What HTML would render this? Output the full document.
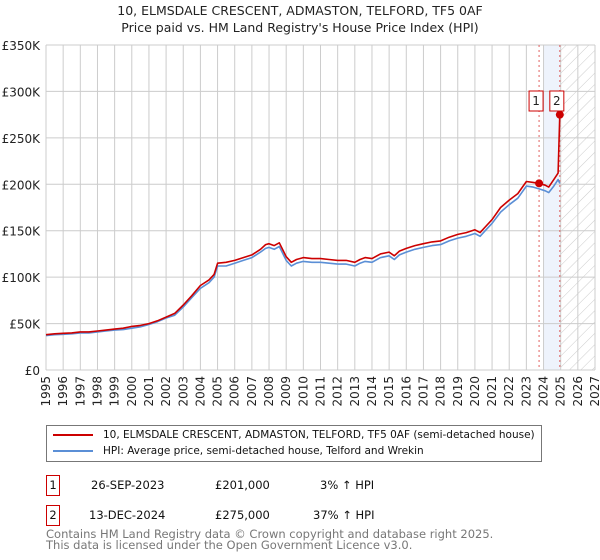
<!DOCTYPE html>
<html><head><meta charset="utf-8"><style>
body{margin:0;width:600px;height:560px;background:#fff;font-family:"DejaVu Sans","Liberation Sans",sans-serif;position:relative;overflow:hidden}
.t{position:absolute;white-space:nowrap}
</style></head><body>
<div class="t" style="left:0;width:600px;top:2px;text-align:center;font-size:12.5px;line-height:17px;color:#222">10, ELMSDALE CRESCENT, ADMASTON, TELFORD, TF5 0AF<br>Price paid vs. HM Land Registry's House Price Index (HPI)</div>
<svg id="chart" width="600" height="415" style="position:absolute;left:0;top:0"></svg>
<div style="position:absolute;left:46px;top:425px;width:494px;height:35px;border:1px solid #777;font-size:10.5px;color:#111;white-space:nowrap">
 <div style="position:absolute;left:6px;top:3px"><span style="display:inline-block;width:40px;height:2px;background:#cc0000;vertical-align:middle;margin-right:10px"></span>10, ELMSDALE CRESCENT, ADMASTON, TELFORD, TF5 0AF (semi-detached house)</div>
 <div style="position:absolute;left:6px;top:19px"><span style="display:inline-block;width:40px;height:2px;background:#5b8fd6;vertical-align:middle;margin-right:10px"></span>HPI: Average price, semi-detached house, Telford and Wrekin</div>
</div>
<div style="font-size:11.5px;color:#111">
 <div class="t" style="left:46px;top:475px;width:12px;height:19px;border:1px solid #cc0000;text-align:center;line-height:19px">1</div>
 <div class="t" style="left:91px;top:478px">26-SEP-2023</div>
 <div class="t" style="left:215px;top:478px">£201,000</div>
 <div class="t" style="left:320px;top:478px">3% ↑ HPI</div>
</div>
<div style="font-size:11.5px;color:#111">
 <div class="t" style="left:46px;top:505px;width:12px;height:19px;border:1px solid #cc0000;text-align:center;line-height:19px">2</div>
 <div class="t" style="left:89px;top:508px">13-DEC-2024</div>
 <div class="t" style="left:215px;top:508px">£275,000</div>
 <div class="t" style="left:313px;top:508px">37% ↑ HPI</div>
</div>
<div class="t" style="left:46px;top:529px;font-size:11.5px;line-height:11px;color:#777">Contains HM Land Registry data © Crown copyright and database right 2025.<br>This data is licensed under the Open Government Licence v3.0.</div>
<script>
const years=[1995,1995.5,1996,1996.5,1997,1997.5,1998,1998.5,1999,1999.5,2000,2000.5,2001,2001.5,2002,2002.5,2003,2003.5,2004,2004.5,2004.8,2005,2005.5,2006,2006.5,2007,2007.5,2007.8,2008,2008.3,2008.6,2009,2009.3,2009.6,2010,2010.5,2011,2011.5,2012,2012.5,2013,2013.3,2013.6,2014,2014.5,2015,2015.3,2015.6,2016,2016.5,2017,2017.5,2018,2018.5,2019,2019.5,2020,2020.3,2020.6,2021,2021.5,2022,2022.5,2023,2023.4,2023.74,2024.1,2024.3,2024.6,2024.85,2024.95];
const hpi=[37,38,38.5,39,40,40,41,42,43,43.5,45,46.5,49,52,56,59,68,78,88,94,100,112,112,115,118,121,127,131,132,130,133,118,112,115,117,116,116,115,114,114,112,115,117,116,121,123,119,124,127,130,132,134,135,139,142,144,147,144,150,158,170,178,185,198,197,195,193,191,198,205,201];
const prop=[38,39,39.5,40,41,41,42,43,44,45,47,48,50,53,57,61,70,80,91,97,103,115,116,118,121,124,130,135,136,134,137,122,116,119,121,120,120,119,118,118,116,119,121,120,125,127,123,128,131,134,136,138,139,143,146,148,151,148,154,162,175,183,190,203,202,201,199,197,205,212,275];
const sales=[[2023.74,201],[2024.95,275]];
const yTicks=[0,50,100,150,200,250,300,350];
const xTicks=[1995,1996,1997,1998,1999,2000,2001,2002,2003,2004,2005,2006,2007,2008,2009,2010,2011,2012,2013,2014,2015,2016,2017,2018,2019,2020,2021,2022,2023,2024,2025,2026,2027];
const L=46,R=595,T=45,B=370;
const X=y=>L+(y-1995)/(2027-1995)*(R-L);
const Y=v=>B-v/350*(B-T);
const svg=document.getElementById('chart');
const NS='http://www.w3.org/2000/svg';
function mk(tag,attrs){const e=document.createElementNS(NS,tag);for(const k in attrs)e.setAttribute(k,attrs[k]);svg.appendChild(e);return e;}
let d=mk('defs',{});d.innerHTML='<pattern id="hatch" width="8" height="8" patternUnits="userSpaceOnUse" patternTransform="rotate(45)"><line x1="0" y1="0" x2="0" y2="8" stroke="#ccc" stroke-width="1"/></pattern>';
let sh=mk('rect',{x:X(2024),y:T,width:X(2024.95)-X(2024),height:B-T,fill:'#eef3fc'});


let ht=mk('rect',{x:X(2025),y:T,width:R-X(2025),height:B-T,fill:'url(#hatch)'});


xTicks.forEach(t=>{
 const g=mk('line',{x1:X(t),x2:X(t),y1:T,y2:B,stroke:'#ccc','stroke-width':1});
 
 
 const tx=mk('text',{x:0,y:0,transform:`translate(${X(t)+4},${B+6}) rotate(-90)`,'text-anchor':'end','font-size':12,fill:'#222'});
 tx.textContent=t;
 
 
});
yTicks.forEach(t=>{
 const g=mk('line',{x1:L,x2:R,y1:Y(t),y2:Y(t),stroke:'#ccc','stroke-width':1});
 
 
 const tx=mk('text',{x:L-6,y:Y(t)+5,'text-anchor':'end','font-size':12,fill:'#222'});
 tx.textContent=t===0?'£0':'£'+t+'K';
 
 
});
sales.forEach((s,i)=>{
 const v=mk('line',{x1:X(s[0]),x2:X(s[0]),y1:T,y2:B,stroke:'#e06060','stroke-width':1,'stroke-dasharray':'2,3'});
 
 
});
const path=(arr,col,w,name)=>{
 const p=mk('path',{d:years.map((y,i)=>(i?'L':'M')+X(y).toFixed(1)+','+Y(arr[i]).toFixed(1)).join(''),fill:'none',stroke:col,'stroke-width':w,'stroke-linejoin':'round'});
 
 
};
path(hpi,'#5b8fd6',1.6,'hpi-line');
path(prop,'#cc0000',1.6,'property-line');
sales.forEach((s,i)=>{
 const c=mk('circle',{cx:X(s[0]),cy:Y(s[1]),r:4,fill:'#cc0000'});
 
 
 const bx=X(s[0])-3;
 const r=mk('rect',{x:bx-7,y:91,width:14,height:20,fill:'#fff',stroke:'#cc0000','stroke-width':1});
 
 
 const tx=mk('text',{x:bx,y:105,'text-anchor':'middle','font-size':12,fill:'#222'});
 tx.textContent=i+1;
 
 
});
</script>
</body></html>
